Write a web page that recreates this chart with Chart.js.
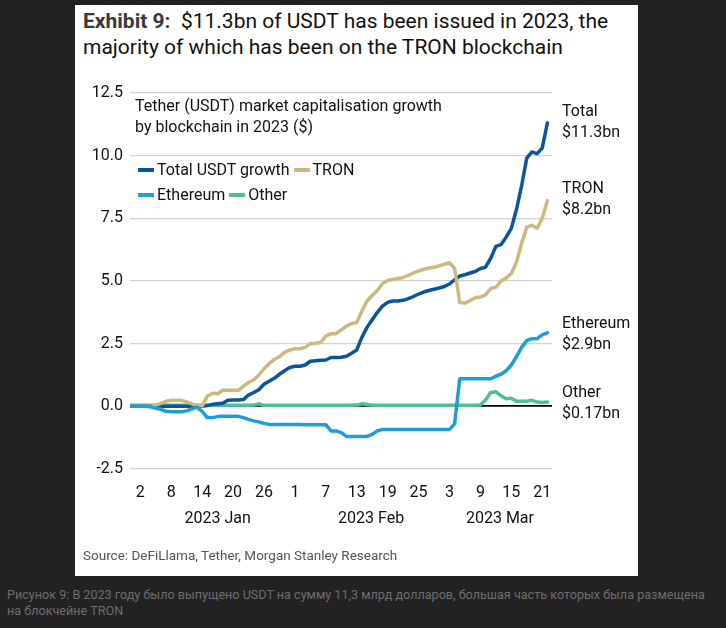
<!DOCTYPE html>
<html>
<head>
<meta charset="utf-8">
<script src="https://cdn.jsdelivr.net/npm/chart.js@4/dist/chart.umd.min.js"></script>
<style>
  html, body { margin: 0; padding: 0; background: #222222; width: 726px; height: 628px; overflow: hidden; font-family: Roboto, sans-serif; }
  #card { position: absolute; left: 75px; top: 5px; width: 563px; height: 571px; background: #fff; }
  #title { position: absolute; left: 83px; top: 8px; font-size: 21px; line-height: 26px; color: #111; white-space: nowrap; }
  #title b { color: #3a3a3a; }
  #wrap { position: absolute; left: 75px; top: 75px; width: 563px; height: 475px; }
  #sub { position: absolute; left: 135px; top: 95px; font-size: 16px; line-height: 21px; color: #111; }
  #legend { position: absolute; left: 138px; top: 158px; font-size: 16px; color: #111; }
  .row { height: 25px; line-height: 24px; white-space: nowrap; }
  .item { display: inline-block; margin-right: 4px; }
  .mk { display: inline-block; width: 16px; height: 4px; vertical-align: middle; margin-right: 3px; position: relative; top: -1px; }
  .end { position: absolute; left: 562px; font-size: 16px; line-height: 21px; color: #111; }
  #src { position: absolute; left: 83px; top: 547px; font-size: 13.5px; color: #555; }
  #cap { position: absolute; left: 7px; top: 587px; font-size: 12.6px; line-height: 16px; color: #6e6e6e; white-space: nowrap; }
</style>
</head>
<body>
<div id="card"></div>
<div id="title"><b>Exhibit 9:</b>&nbsp; $11.3bn of USDT has been issued in 2023, the<br>majority of which has been on the TRON blockchain</div>
<div id="wrap"><canvas id="chart"></canvas></div>
<div id="sub">Tether (USDT) market capitalisation growth<br>by blockchain in 2023 ($)</div>
<div id="legend"></div>
<div class="end" style="top:100px">Total<br>$11.3bn</div>
<div class="end" style="top:177px">TRON<br>$8.2bn</div>
<div class="end" style="top:312px">Ethereum<br>$2.9bn</div>
<div class="end" style="top:381px">Other<br>$0.17bn</div>
<div id="src">Source: DeFiLlama, Tether, Morgan Stanley Research</div>
<div id="cap">Рисунок 9: В 2023 году было выпущено USDT на сумму 11,3 млрд долларов, большая часть которых была размещена<br>на блокчейне TRON</div>
<script>
// day offset from 1 Jan 2023 (Dec 31 = -1)
const days = [-1, 0, 1, 2, 3, 4, 5, 6, 7, 8, 9, 10, 11, 12, 13, 14, 15, 16, 17, 18, 19, 20,
  21, 22, 23, 24, 25, 26, 27, 28, 29, 30, 31, 32, 33, 34, 35, 36, 37, 38, 39, 40,
  41, 42, 43, 44, 45, 46, 47, 48, 49, 50, 51, 52, 53, 54, 55, 56, 57, 58, 59, 60,
  61, 62, 63, 64, 65, 66, 67, 68, 69, 70, 71, 72, 73, 74, 75, 76, 77, 78, 79, 80];

const totalGrowth = [0, 0, 0, 0, 0, 0, 0, 0, 0, 0, 0, 0, 0, 0, 0, 0.03, 0.08, 0.1, 0.12, 0.24, 0.25, 0.25,
  0.27, 0.45, 0.55, 0.66, 0.88, 1.0, 1.12, 1.28, 1.42, 1.55, 1.6, 1.6, 1.65, 1.8, 1.82, 1.84, 1.85, 1.95, 1.95, 1.96,
  2.0, 2.12, 2.25, 2.75, 3.15, 3.45, 3.75, 4.0, 4.15, 4.2, 4.2, 4.23, 4.3, 4.38, 4.48, 4.56, 4.62, 4.67, 4.72, 4.78,
  4.88, 5.05, 5.2, 5.25, 5.32, 5.38, 5.5, 5.55, 5.9, 6.38, 6.45, 6.75, 7.1, 7.85, 8.8, 9.9, 10.15, 10.08, 10.3, 11.3];

const tron = [0, 0, 0, 0, 0, 0.05, 0.12, 0.2, 0.24, 0.24, 0.24, 0.18, 0.1, 0.04, 0.02, 0.4, 0.52, 0.5, 0.64, 0.64, 0.64, 0.64,
  0.8, 0.95, 1.05, 1.25, 1.5, 1.7, 1.87, 1.98, 2.15, 2.25, 2.3, 2.3, 2.35, 2.5, 2.52, 2.55, 2.8, 2.9, 2.9, 3.05,
  3.2, 3.3, 3.35, 3.8, 4.2, 4.42, 4.62, 4.9, 5.02, 5.06, 5.1, 5.14, 5.22, 5.32, 5.4, 5.47, 5.52, 5.55, 5.6, 5.67,
  5.73, 5.5, 4.14, 4.12, 4.22, 4.33, 4.36, 4.45, 4.7, 4.75, 5.0, 5.12, 5.3, 5.75, 6.5, 7.15, 7.22, 7.1, 7.5, 8.2];

const ethereum = [0, 0, 0, 0, -0.02, -0.08, -0.12, -0.2, -0.22, -0.22, -0.22, -0.18, -0.1, -0.03, -0.2, -0.45, -0.45, -0.41, -0.4, -0.4, -0.4, -0.4,
  -0.45, -0.52, -0.58, -0.62, -0.68, -0.72, -0.72, -0.72, -0.72, -0.72, -0.72, -0.72, -0.73, -0.73, -0.73, -0.73, -0.73, -0.98, -0.98, -1.05,
  -1.2, -1.2, -1.2, -1.2, -1.2, -1.12, -0.98, -0.92, -0.92, -0.92, -0.92, -0.92, -0.92, -0.92, -0.92, -0.92, -0.92, -0.92, -0.92, -0.92,
  -0.92, -0.7, 1.1, 1.1, 1.1, 1.1, 1.1, 1.1, 1.1, 1.2, 1.28, 1.42, 1.65, 1.98, 2.35, 2.62, 2.7, 2.7, 2.85, 2.93];

const other = [0.04, 0.04, 0.04, 0.04, 0.04, 0.04, 0.04, 0.04, 0.04, 0.04, 0.04, 0.04, 0.04, 0.04, 0.04, 0.04, 0.04, 0.04, 0.04, 0.04, 0.04, 0.04,
  0.04, 0.04, 0.05, 0.1, 0.04, 0.04, 0.04, 0.04, 0.04, 0.04, 0.04, 0.04, 0.04, 0.04, 0.04, 0.04, 0.04, 0.04, 0.04, 0.04,
  0.04, 0.04, 0.05, 0.1, 0.07, 0.04, 0.04, 0.04, 0.04, 0.04, 0.04, 0.04, 0.04, 0.04, 0.04, 0.04, 0.04, 0.04, 0.04, 0.04,
  0.04, 0.04, 0.04, 0.04, 0.04, 0.04, 0.05, 0.25, 0.55, 0.58, 0.42, 0.3, 0.32, 0.2, 0.2, 0.2, 0.24, 0.17, 0.15, 0.17];

const xTickDays = [1, 7, 13, 19, 25, 31, 37, 43, 49, 55, 61, 67, 73, 79];
const xTickLabels = ['2', '8', '14', '20', '26', '1', '7', '13', '19', '25', '3', '9', '15', '21'];
const monthCenters = [16, 45.8, 70.8];
const monthLabels = ['2023 Jan', '2023 Feb', '2023 Mar'];
const yTicks = [-2.5, 0, 2.5, 5, 7.5, 10, 12.5];

const COLORS = {
  total: '#0b5699',
  tron: '#cdb97e',
  eth: '#1d9fd6',
  other: '#4dbf9e',
  grid: '#d2d2d2',
  text: '#111'
};

function pts(vals) {
  return days.map((d, i) => ({ x: d, y: vals[i] }));
}

Chart.defaults.font.family = 'Roboto, sans-serif';
Chart.defaults.color = COLORS.text;

const series = [
  { label: 'Total USDT growth', data: pts(totalGrowth), color: COLORS.total, order: 2 },
  { label: 'TRON', data: pts(tron), color: COLORS.tron, order: 1 },
  { label: 'Ethereum', data: pts(ethereum), color: COLORS.eth, order: 0 },
  { label: 'Other', data: pts(other), color: COLORS.other, order: 3 }
];

const chart = new Chart(document.getElementById('chart'), {
  type: 'line',
  data: {
    datasets: series.map(s => ({
      label: s.label,
      data: s.data,
      borderColor: s.color,
      backgroundColor: s.color,
      borderWidth: 3.5,
      pointRadius: 0,
      tension: 0,
      borderJoinStyle: 'round',
      borderCapStyle: 'round',
      order: s.order
    }))
  },
  options: {
    responsive: true,
    maintainAspectRatio: false,
    animation: false,
    layout: { padding: { top: 18, right: 86, bottom: 17, left: 0 } },
    plugins: { legend: { display: false }, tooltip: { enabled: false } },
    scales: {
      x: {
        type: 'linear',
        min: -1,
        max: 80.9,
        offset: false,
        grid: { display: false, drawTicks: false },
        border: { display: false },
        afterBuildTicks: scale => { scale.ticks = xTickDays.map(v => ({ value: v })); },
        afterFit: scale => { scale.height = 34; },
        ticks: {
          autoSkip: false,
          maxRotation: 0,
          padding: 14,
          font: { size: 16 },
          callback: v => xTickLabels[xTickDays.indexOf(v)]
        }
      },
      xMonth: {
        type: 'linear',
        position: 'bottom',
        min: -1,
        max: 80.9,
        offset: false,
        grid: { display: false, drawTicks: false },
        border: { display: false },
        afterBuildTicks: scale => { scale.ticks = monthCenters.map(v => ({ value: v })); },
        afterFit: scale => { scale.height = 30; },
        ticks: {
          autoSkip: false,
          maxRotation: 0,
          padding: 6,
          font: { size: 16 },
          callback: v => monthLabels[monthCenters.indexOf(v)]
        }
      },
      y: {
        min: -2.5,
        max: 12.5,
        afterBuildTicks: scale => { scale.ticks = yTicks.map(v => ({ value: v })); },
        afterFit: scale => { scale.width = 55; },
        border: { display: false },
        grid: {
          drawTicks: false,
          color: ctx => ctx.tick && ctx.tick.value === 0 ? '#000' : COLORS.grid,
          lineWidth: ctx => ctx.tick && ctx.tick.value === 0 ? 1.8 : 1.2
        },
        ticks: {
          padding: 7,
          font: { size: 16 },
          callback: v => v.toFixed(1)
        }
      }
    }
  }
});

// legend in two rows, built from the chart datasets
const legendRows = [[0, 1], [2, 3]];
const legendEl = document.getElementById('legend');
legendRows.forEach(row => {
  const r = document.createElement('div');
  r.className = 'row';
  row.forEach(i => {
    const ds = chart.data.datasets[i];
    const it = document.createElement('span');
    it.className = 'item';
    it.innerHTML = '<span class="mk" style="background:' + ds.borderColor + '"></span>' + ds.label;
    r.appendChild(it);
  });
  legendEl.appendChild(r);
});
</script>
</body>
</html>
